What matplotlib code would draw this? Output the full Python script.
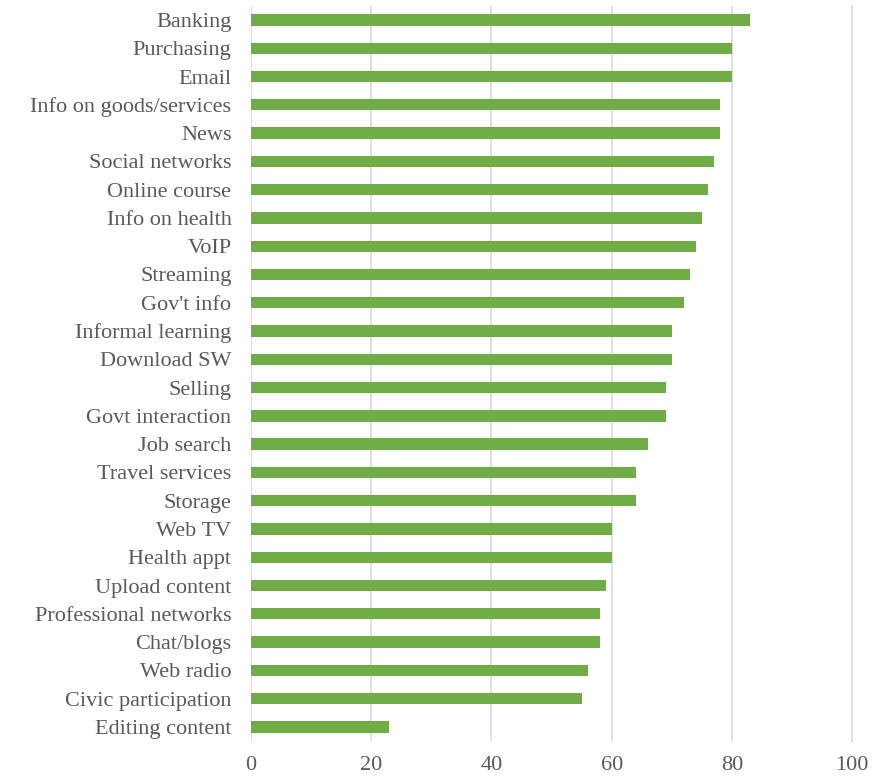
import matplotlib.pyplot as plt

categories = [
    "Banking", "Purchasing", "Email", "Info on goods/services", "News",
    "Social networks", "Online course", "Info on health", "VoIP", "Streaming",
    "Gov't info", "Informal learning", "Download SW", "Selling",
    "Govt interaction", "Job search", "Travel services", "Storage", "Web TV",
    "Health appt", "Upload content", "Professional networks", "Chat/blogs",
    "Web radio", "Civic participation", "Editing content",
]
values = [83, 80, 80, 78, 78, 77, 76, 75, 74, 73, 72, 70, 70, 69, 69, 66,
          64, 64, 60, 60, 59, 58, 58, 56, 55, 23]
xticks = [0, 20, 40, 60, 80, 100]

text_color = "#595959"
plt.rcParams['font.family'] = ['Liberation Serif', 'DejaVu Serif']

fig = plt.figure(figsize=(8.74, 7.78), dpi=100)
ax = fig.add_axes([0.287, 0.0475, 0.688, 0.945])

y = list(range(len(categories)))
ax.barh(y, values, height=0.4, color="#70ad47", zorder=3)
ax.set_ylim(len(categories) - 0.5, -0.5)
ax.set_xlim(0, 100)
ax.set_yticks(y)
ax.set_yticklabels(categories, fontsize=16, color=text_color)
ax.set_xticks(xticks)
ax.set_xticklabels([str(t) for t in xticks], fontsize=16, color=text_color)
ax.tick_params(axis='both', length=0)
ax.tick_params(axis='y', pad=14)
ax.tick_params(axis='x', pad=11)
ax.grid(axis='x', color="#d9d9d9", linewidth=1.2, zorder=0)
for s in ax.spines.values():
    s.set_visible(False)
ax.set_axisbelow(True)
ax.xaxis.get_gridlines()[-1].set_clip_on(False)

fig.savefig("out.png", dpi=100)
